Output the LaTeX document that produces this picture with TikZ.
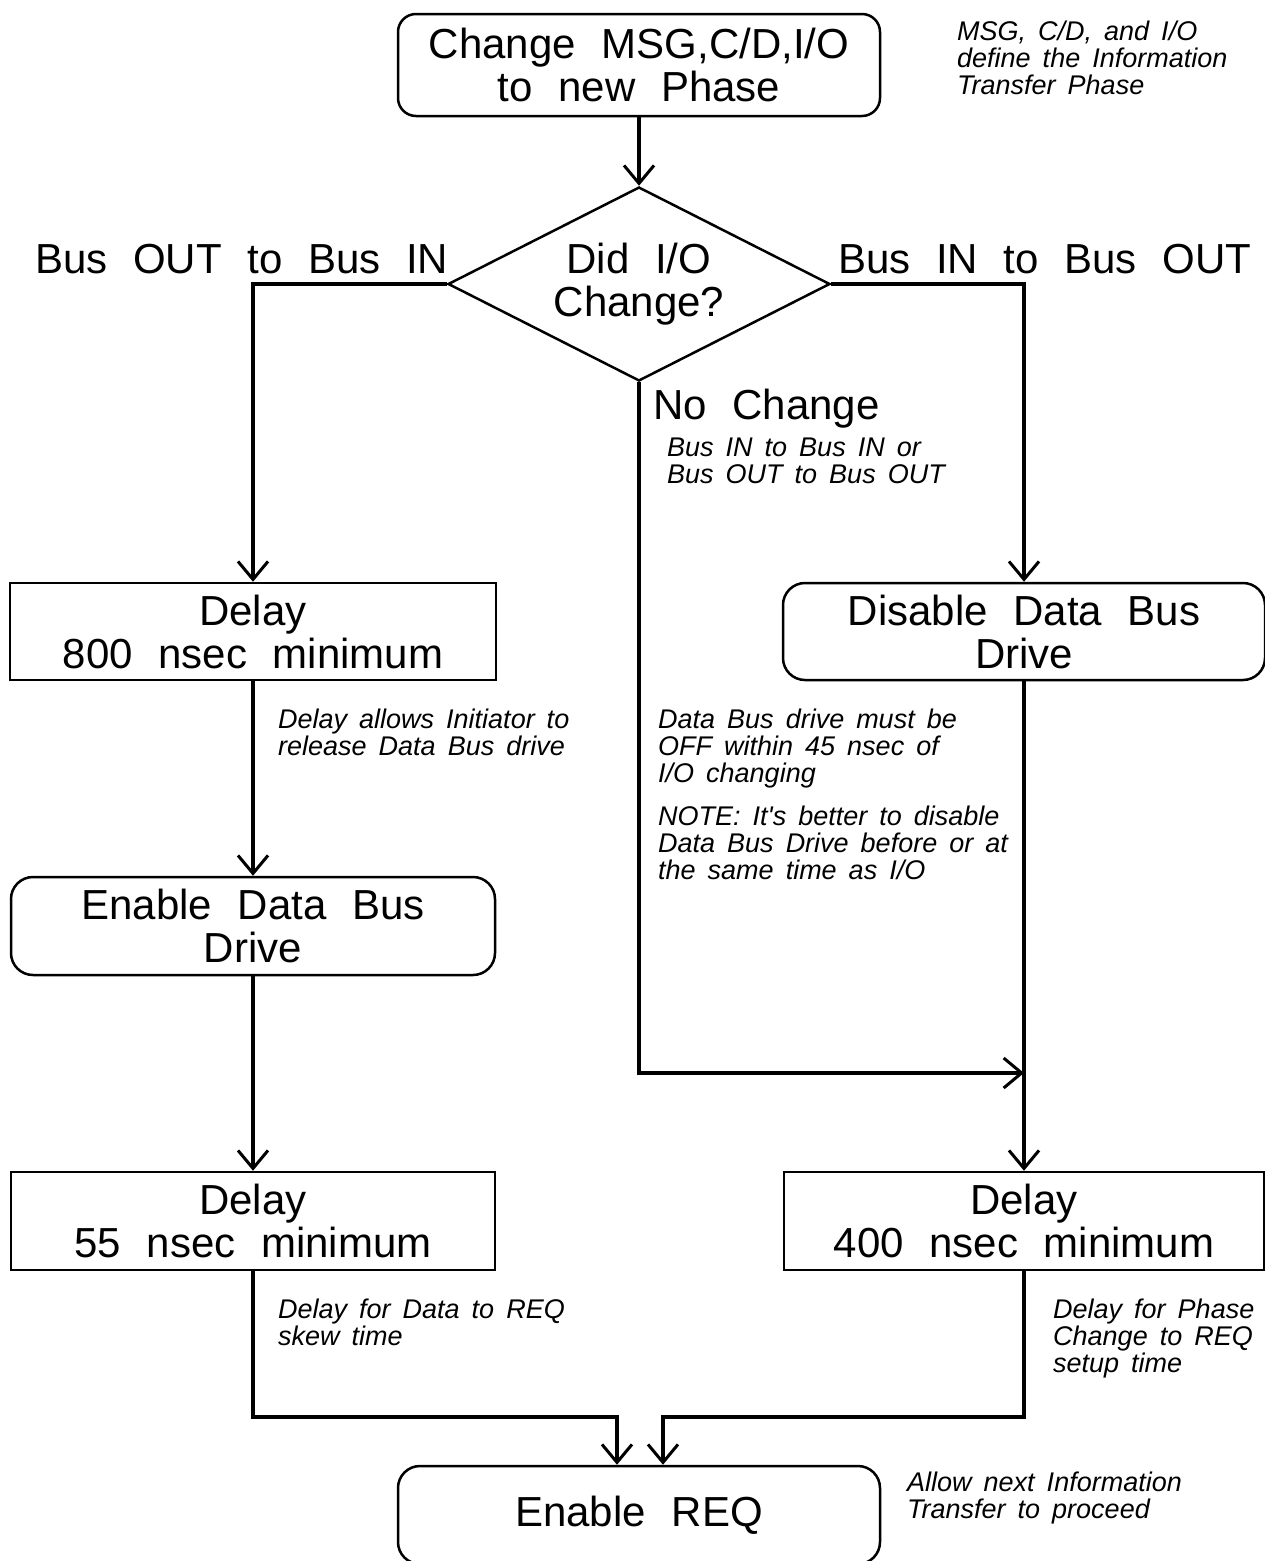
\documentclass[tikz,border=0pt]{standalone}
\usepackage{fontspec}
\setmainfont{Liberation Sans}[WordSpace=2.2]
\newfontfamily\notef{Liberation Sans}[WordSpace=1.6]
\usetikzlibrary{arrows.meta,shapes.geometric}
\newcommand\bigtext{\fontsize{42}{43}\selectfont}
\newcommand\notetext{\notef\itshape\fontsize{27}{27}\selectfont}
\tikzset{
  box/.style={draw, line width=2.5pt, inner sep=0pt, align=center, font=\bigtext},
  rbox/.style={box, rounded corners=22pt},
  lbl/.style={inner sep=0pt, font=\bigtext},
  note/.style={inner sep=0pt, align=left, font=\notetext},
  conn/.style={line width=3.5pt, -{Straight Barb[length=18pt,width=30pt,line width=3pt]}}
}
\begin{document}
\begin{tikzpicture}[x=1pt,y=-1pt]
\useasboundingbox[fill=white] (0,0) rectangle (1265,1561);

% boxes
\node[rbox, rounded corners=18pt, minimum width=482pt, minimum height=102pt] (top) at (639,65) {Change MSG,C/D,I/O\\to new Phase};
\node[draw, diamond, aspect=2, line width=2.5pt, inner sep=0pt, minimum width=382pt, minimum height=194pt, align=center, font=\bigtext] (dia) at (639,284) {Did I/O\\Change?};
\node[box, minimum width=486pt, minimum height=97pt] (d800) at (253,631.5) {Delay\\800 nsec minimum};
\node[rbox, minimum width=482pt, minimum height=97pt] (dis) at (1024,631.5) {Disable Data Bus\\Drive};
\node[rbox, minimum width=484pt, minimum height=98pt] (edb) at (253,926) {Enable Data Bus\\Drive};
\node[box, minimum width=484pt, minimum height=98pt] (d55) at (253,1221) {Delay\\55 nsec minimum};
\node[box, minimum width=480pt, minimum height=98pt] (d400) at (1024,1221) {Delay\\400 nsec minimum};
\node[rbox, minimum width=482pt, minimum height=98pt] (req) at (639,1515) {Enable REQ};

% branch labels
\node[lbl, anchor=base west] (lblL) at (35,273) {Bus OUT to Bus IN};
\node[lbl, anchor=base west] (lblR) at (838,273) {Bus IN to Bus OUT};
\node[lbl, anchor=base west] (lblN) at (653,419) {No Change};

% notes (anchor at baseline of last line)
\node[note, anchor=base west] (nTop) at (957,94) {MSG, C/D, and I/O\\define the Information\\Transfer Phase};
\node[note, anchor=base west] (nNo) at (667,483) {Bus IN to Bus IN or\\Bus OUT to Bus OUT};
\node[note, anchor=base west] (nL1) at (278,755) {Delay allows Initiator to\\release Data Bus drive};
\node[note, anchor=base west] (nR1) at (658,782) {Data Bus drive must be\\OFF within 45 nsec of\\I/O changing};
\node[note, anchor=base west] (nR2) at (658,879) {NOTE: It's better to disable\\Data Bus Drive before or at\\the same time as I/O};
\node[note, anchor=base west] (nL2) at (278,1345) {Delay for Data to REQ\\skew time};
\node[note, anchor=base west] (nR3) at (1053,1372) {Delay for Phase\\Change to REQ\\setup time};
\node[note, anchor=base west] (nReq) at (907,1518) {Allow next Information\\Transfer to proceed};

% connectors
\coordinate (jr) at (1024,1073);
\coordinate (bl) at (617,1417);
\coordinate (br) at (663,1417);
\draw[conn] (top.south) -- (dia.north);
\draw[conn] (dia.west) -| (d800.north);
\draw[conn] (dia.east) -| (dis.north);
\draw[conn] (d800.south) -- (edb.north);
\draw[conn] (edb.south) -- (d55.north);
\draw[conn] (dia.south) |- (jr);
\draw[conn] (dis.south) -- (d400.north);
\draw[conn] (d55.south) |- (bl) -- (bl |- req.north);
\draw[conn] (d400.south) |- (br) -- (br |- req.north);
\end{tikzpicture}
\end{document}
